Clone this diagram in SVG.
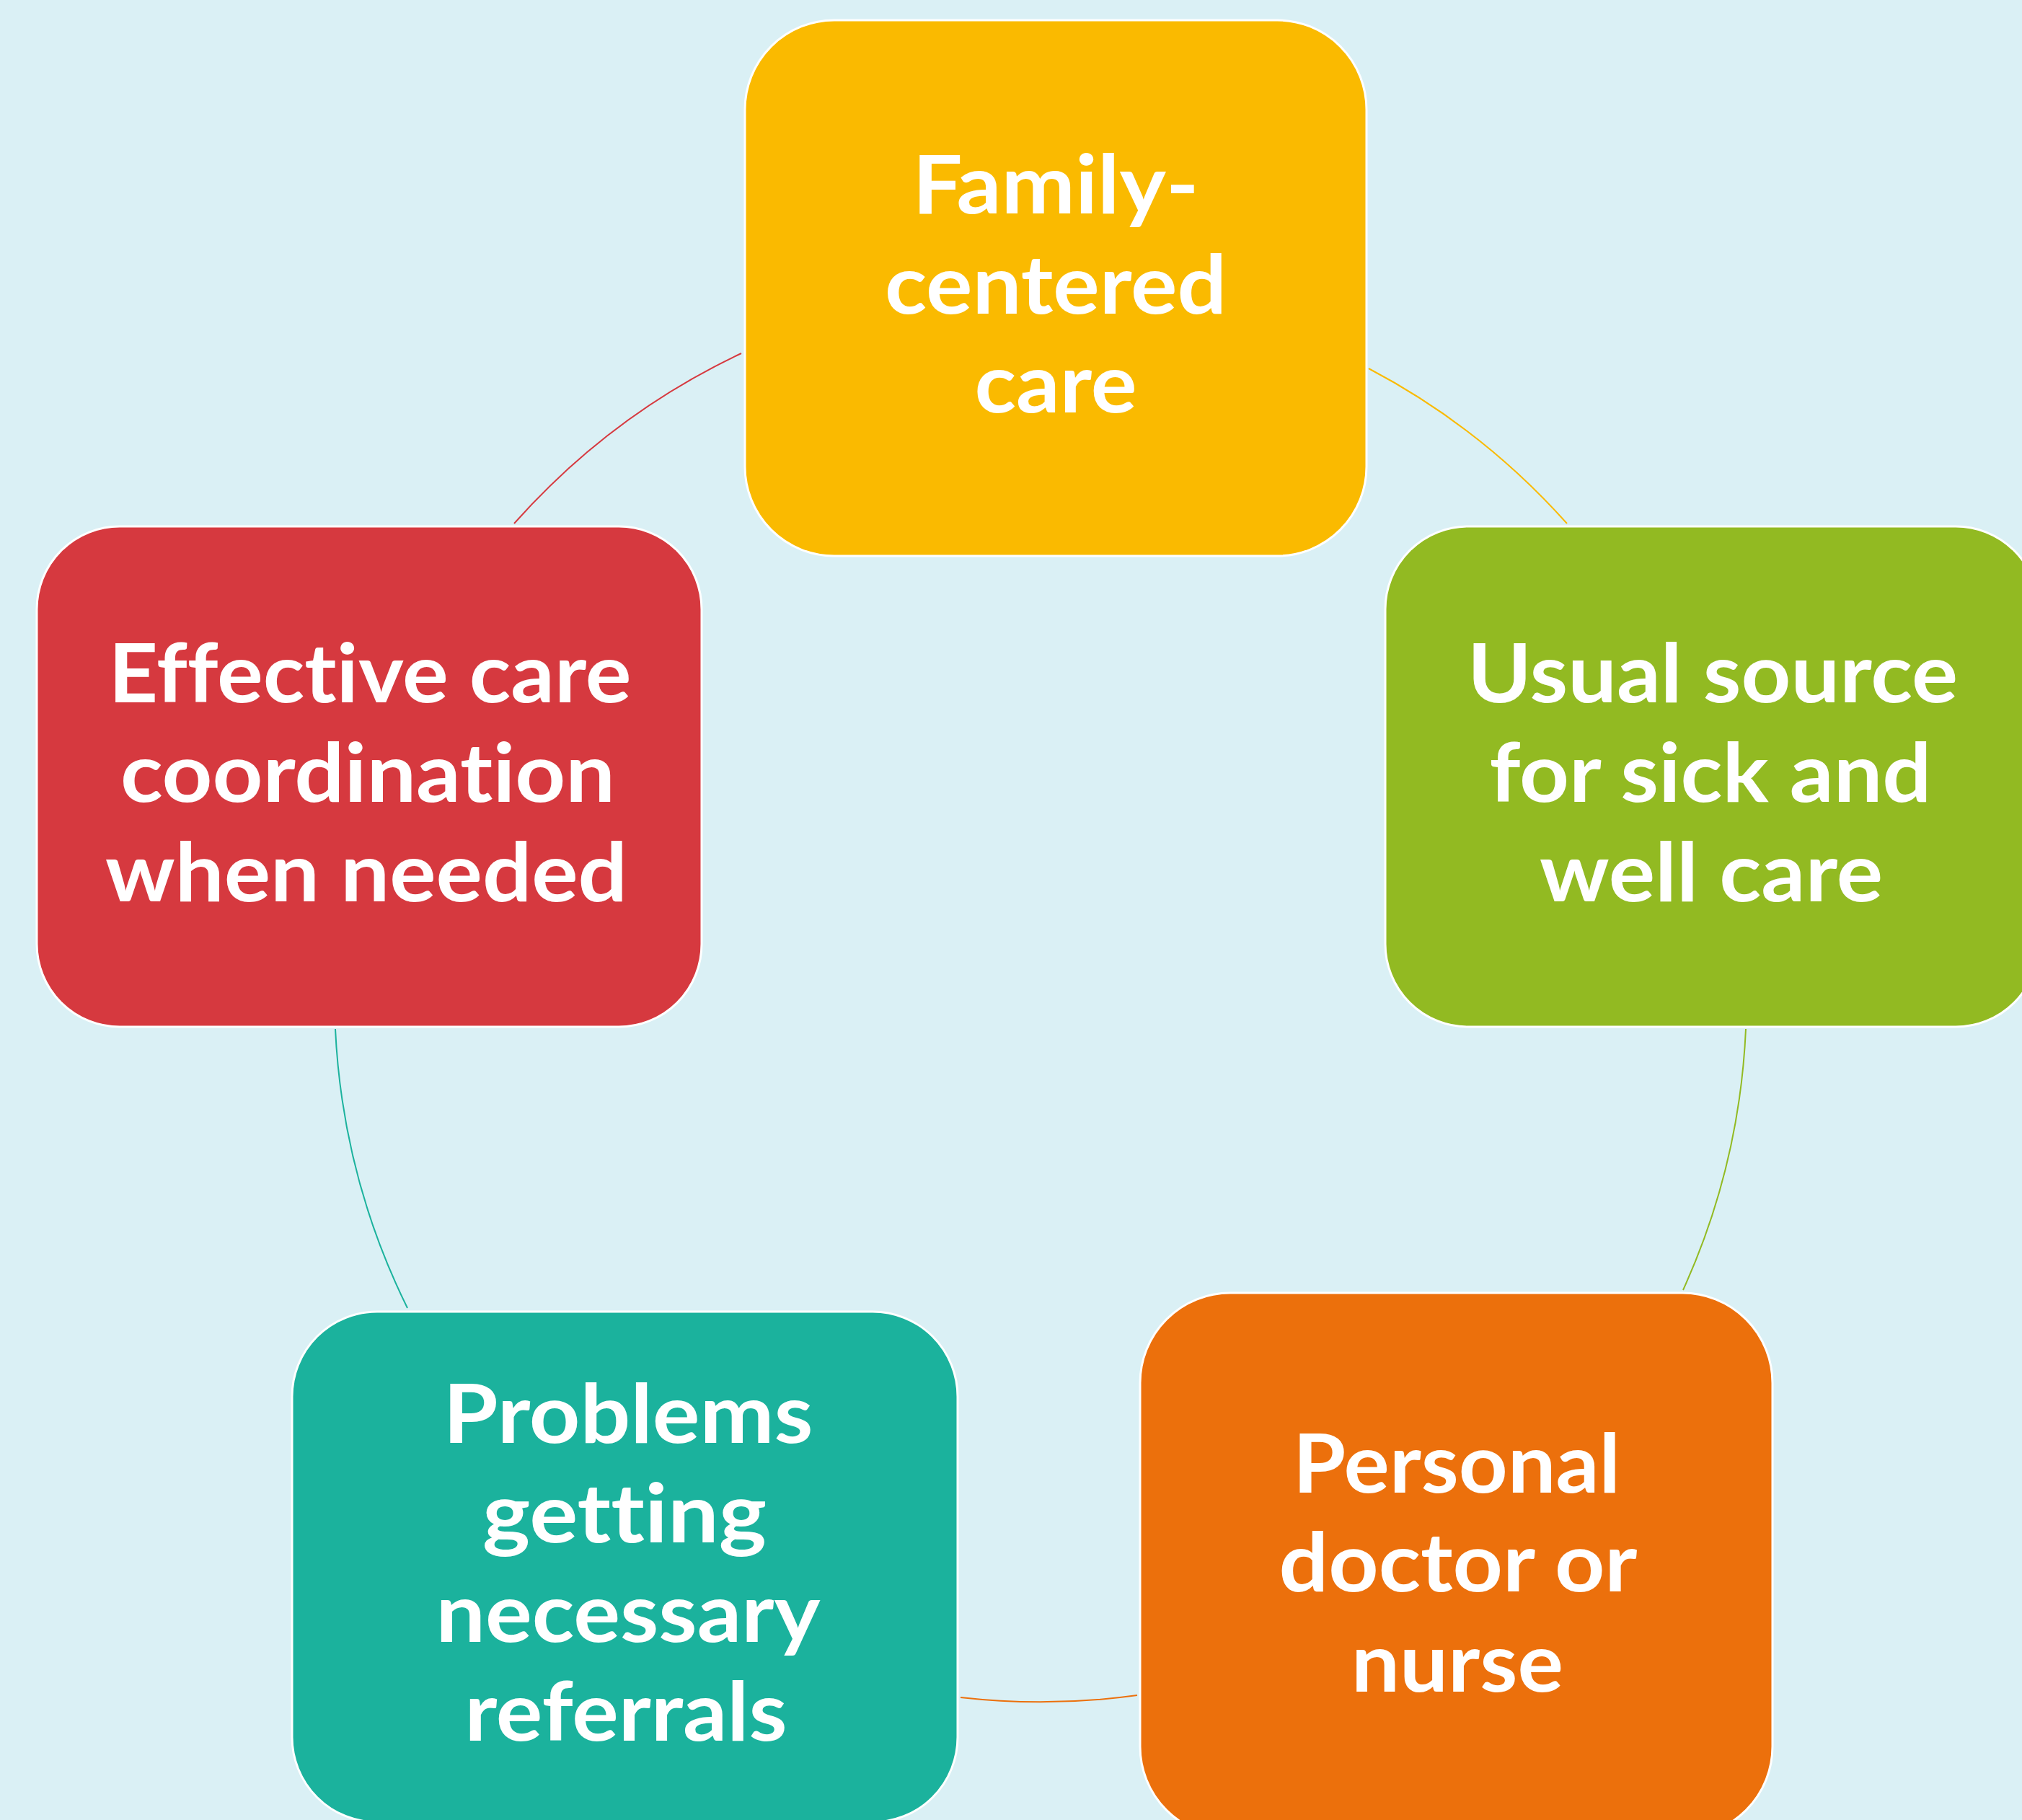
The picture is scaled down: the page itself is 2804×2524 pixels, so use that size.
<svg xmlns="http://www.w3.org/2000/svg" width="2804" height="2524" viewBox="0 0 2804 2524">
<style>
.box{stroke:#ffffff;stroke-width:3}
.lbl{font-family:Lato,"Liberation Sans",sans-serif;font-weight:700;font-size:113px;fill:#ffffff;text-anchor:middle;font-variant-ligatures:none;font-feature-settings:"liga" 0,"clig" 0,"dlig" 0}
.conn{fill:none;stroke-width:2}
</style>
<rect x="0" y="0" width="2804" height="2524" fill="#DAF0F5"/>
<g id="connectors">
<path class="conn" stroke="#D6393F" d="M 713 726 A 980 980 0 0 1 1028 490"/>
<path class="conn" stroke="#FABA00" d="M 1898 511 A 980 980 0 0 1 2173 726"/>
<path class="conn" stroke="#92BA22" d="M 2421 1427 A 980 980 0 0 1 2334 1789"/>
<path class="conn" stroke="#EC700C" d="M 1577 2351 A 980 980 0 0 1 1332 2354"/>
<path class="conn" stroke="#1BB29D" d="M 565 1814 A 980 980 0 0 1 465 1427"/>
</g>
<g id="family-centered-care">
<rect class="box" x="1033" y="28" width="862" height="743" rx="124" ry="124" fill="#FABA00"/>
<text class="lbl" x="1464" y="296" textLength="397" lengthAdjust="spacingAndGlyphs">Family-</text>
<text class="lbl" x="1464" y="435" textLength="474" lengthAdjust="spacingAndGlyphs">centered</text>
<text class="lbl" x="1464" y="572" textLength="225" lengthAdjust="spacingAndGlyphs">care</text>
</g>
<g id="usual-source">
<rect class="box" x="1921" y="730" width="906" height="694" rx="115" ry="115" fill="#92BA22"/>
<text class="lbl" x="2375" y="974" textLength="680" lengthAdjust="spacingAndGlyphs">Usual source</text>
<text class="lbl" x="2372" y="1112" textLength="613" lengthAdjust="spacingAndGlyphs">for sick and</text>
<text class="lbl" x="2373" y="1250" textLength="476" lengthAdjust="spacingAndGlyphs">well care</text>
</g>
<g id="personal-doctor">
<rect class="box" x="1581" y="1793" width="877" height="754" rx="125" ry="125" fill="#EC700C"/>
<text class="lbl" x="2020" y="2070" textLength="454" lengthAdjust="spacingAndGlyphs">Personal</text>
<text class="lbl" x="2022" y="2207" textLength="497" lengthAdjust="spacingAndGlyphs">doctor or</text>
<text class="lbl" x="2021" y="2346" textLength="294" lengthAdjust="spacingAndGlyphs">nurse</text>
</g>
<g id="problems-referrals">
<rect class="box" x="405" y="1819" width="923" height="708" rx="118" ry="118" fill="#1BB29D"/>
<text class="lbl" x="871" y="2001" textLength="513" lengthAdjust="spacingAndGlyphs">Problems</text>
<text class="lbl" x="866" y="2139" textLength="394" lengthAdjust="spacingAndGlyphs">getting</text>
<text class="lbl" x="871" y="2277" textLength="533" lengthAdjust="spacingAndGlyphs">necessary</text>
<text class="lbl" x="868" y="2414" textLength="447" lengthAdjust="spacingAndGlyphs">referrals</text>
</g>
<g id="effective-care-coordination">
<rect class="box" x="51" y="730" width="922" height="694" rx="115" ry="115" fill="#D6393F"/>
<text class="lbl" x="513" y="974" textLength="725" lengthAdjust="spacingAndGlyphs">Effective care</text>
<text class="lbl" x="510" y="1112" textLength="686" lengthAdjust="spacingAndGlyphs">coordination</text>
<text class="lbl" x="508" y="1250" textLength="724" lengthAdjust="spacingAndGlyphs">when needed</text>
</g>
</svg>
